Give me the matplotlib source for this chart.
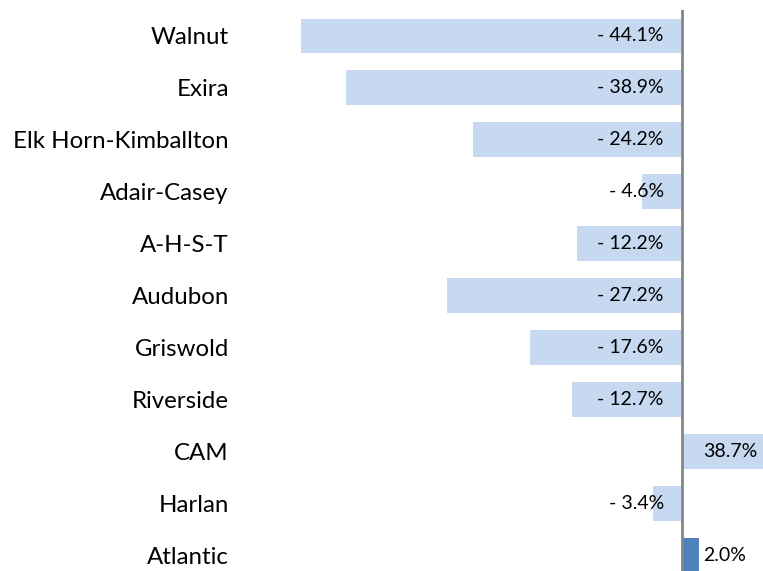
import matplotlib.pyplot as plt
import matplotlib.transforms as mtransforms

# =========================================
# Data
# =========================================
districts = ["Walnut", "Exira", "Elk Horn-Kimballton", "Adair-Casey", "A-H-S-T",
             "Audubon", "Griswold", "Riverside", "CAM", "Harlan", "Atlantic"]
change_pct = [-44.1, -38.9, -24.2, -4.6, -12.2, -27.2, -17.6, -12.7, 38.7, -3.4, 2.0]
highlight = "Atlantic"

plt.rcParams['font.family'] = ['Lato', 'DejaVu Sans']

fig = plt.figure(figsize=(7.63, 5.71), dpi=100)
ax = fig.add_axes([240 / 763, -0.0175, 1 - 240 / 763, 1.0])

light = "#c6d9f1"
dark = "#4f81bd"
colors = [dark if d == highlight else light for d in districts]

ypos = list(range(len(districts)))
ax.barh(ypos, change_pct, height=0.67, color=colors, zorder=2)

ax.set_xlim(-51.2, 9.4)
ax.set_ylim(len(districts) - 0.5, -0.5)
ax.axvline(0, color="#868686", lw=2, zorder=3)

ax.set_yticks(ypos)
ax.set_yticklabels(districts, fontsize=17.3)
ax.tick_params(axis="y", length=0, pad=8)
ax.set_xticks([])
for s in ax.spines.values():
    s.set_visible(False)

# value labels
for y, v in zip(ypos, change_pct):
    if v < 0:
        off = mtransforms.offset_copy(ax.transData, fig=fig, x=-18, y=0, units="dots")
        ax.text(0, y, f"- {abs(v):.1f}%", ha="right", va="center", fontsize=14,
                transform=off, zorder=4)
    else:
        off = mtransforms.offset_copy(ax.transData, fig=fig, x=21, y=0, units="dots")
        ax.text(0, y, f"{v:.1f}%", ha="left", va="center", fontsize=14,
                transform=off, zorder=4)

fig.savefig("out.png", dpi=100)
